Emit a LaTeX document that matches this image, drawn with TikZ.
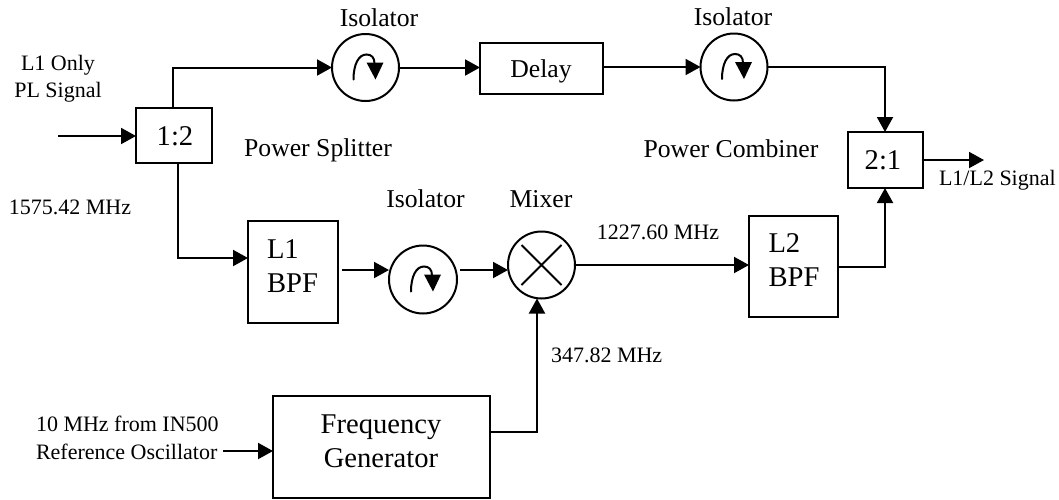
\documentclass[tikz,border=0pt]{standalone}
\usepackage{fontspec}
\setmainfont{Liberation Serif}
\usetikzlibrary{arrows.meta}
\tikzset{
  conn/.style={line width=2pt,-{Triangle[length=15pt,width=16pt]}},
  plain/.style={line width=2pt},
  blockbox/.style={draw,line width=2.2pt,inner sep=0pt,outer sep=0pt},
  roundel/.style={draw,circle,line width=2pt,inner sep=0pt,outer sep=0pt,minimum size=67pt},
  lab/.style={inner sep=0pt,outer sep=0pt,align=center},
  small/.style={lab,font=\fontsize{22}{27.5}\selectfont},
  mid/.style={lab,font=\fontsize{25.7}{31}\selectfont},
  big/.style={lab,font=\fontsize{28.6}{34.5}\selectfont},
  pics/isosym/.style={code={
    \draw[line width=2pt,line cap=round] (-12,12) .. controls (-12,-3) and (-7,-13) .. (1,-13) .. controls (6,-13) and (9,-10) .. (9,-4);
    \fill (1,-5) -- (18,-5) -- (10,12) -- cycle;
  }}
}
\begin{document}
\begin{tikzpicture}[x=1pt,y=-1pt]
\useasboundingbox (0,0) rectangle (1059,499);
% blocks
\node[blockbox,big,minimum width=76pt,minimum height=55pt] (split) at (174,135.5) {};
\node[big] (splitt) at (175,136) {1:2};
\node[blockbox,minimum width=123pt,minimum height=51pt] (delay) at (541.5,68.5) {};
\node[mid] (delayt) at (541,71) {Delay};
\node[blockbox,minimum width=75pt,minimum height=56pt] (comb) at (885.5,160) {};
\node[big] (combt) at (883,160) {2:1};
\node[blockbox,minimum width=90pt,minimum height=102pt] (lone) at (293,272) {};
\node[big] (lonet) at (292.5,266) {\makebox[51pt][l]{L1}\\BPF};
\node[blockbox,minimum width=89pt,minimum height=101pt] (ltwo) at (793.5,266.5) {};
\node[big] (ltwot) at (794,260) {\makebox[51pt][l]{L2}\\BPF};
\node[blockbox,minimum width=217pt,minimum height=102pt] (fgen) at (381.5,447) {};
\node[big] (fgent) at (381,441.5) {Frequency\\Generator};
% round elements
\node[roundel] (isoa) at (365.5,67.5) {};
\node[roundel] (isob) at (734,67) {};
\node[roundel,minimum size=68pt] (isoc) at (423,279.5) {};
\node[roundel] (mix) at (541.5,265) {};
\pic at (isoa) {isosym};
\pic at (isob) {isosym};
\pic at (isoc) {isosym};
\draw[plain] ([shift={(-20,-20)}]mix.center) -- ([shift={(20,20)}]mix.center)
  ([shift={(20,-20)}]mix.center) -- ([shift={(-20,20)}]mix.center);
% free ends and routing levels
\coordinate (inA) at (58,136);
\coordinate (inB) at (223,451);
\coordinate (outA) at (984,160);
\coordinate (topL) at (173,67.5);
\coordinate (botL) at (178,258);
\coordinate (rowB) at (0,270);
\coordinate (rowC) at (0,267);
\coordinate (rowD) at (0,432);
\coordinate (colA) at (885,0);
\coordinate (colB) at (537,0);
% connectors
\draw[conn] (inA) -- (split.west |- inA);
\draw[conn] (split.north -| topL) -- (topL) -- (isoa.west);
\draw[conn] (split.south -| botL) -- (botL) -- (lone.west |- botL);
\draw[conn] (isoa.east) -- (delay.west |- isoa.east);
\draw[conn] (delay.east |- isob.west) -- (isob.west);
\draw[conn] (isob.east) -- (isob.east -| colA) -- (colA |- comb.north);
\draw[conn] (comb.east) -- (outA);
\draw[conn,shorten <=4pt] (lone.east |- rowB) -- (isoc.west |- rowB);
\draw[conn,shorten <=3pt] (isoc.east |- rowB) -- (mix.west |- rowB);
\draw[conn] (mix.east) -- (ltwo.west |- mix.east);
\draw[conn] (ltwo.east |- rowC) -- (colA |- rowC) -- (colA |- comb.south);
\draw[conn] (fgen.east |- rowD) -- (colB |- rowD) -- (colB |- mix.south);
\draw[conn] (inB) -- (fgen.west |- inB);
% labels
\node[mid] (la) at (379,18) {Isolator};
\node[mid] (lb) at (733,17) {Isolator};
\node[mid] (lc) at (425.5,199) {Isolator};
\node[mid] (ld) at (541,199) {Mixer};
\node[mid] (le) at (318,150) {Power Splitter};
\node[mid] (lf) at (731,149) {Power Combiner};
\node[small] (lg) at (58,78.5) {L1 Only\\PL Signal};
\node[small] (lh) at (70,207) {1575.42 MHz};
\node[small] (li) at (658,232) {1227.60 MHz};
\node[small,anchor=west] (lj) at (551,355) {347.82 MHz};
\node[small,anchor=west] (lk) at (939,180) {L1/L2 Signal};
\node[small,anchor=west,align=left] (ll) at (36,438) {10 MHz from IN500\\Reference Oscillator};
\end{tikzpicture}
\end{document}
